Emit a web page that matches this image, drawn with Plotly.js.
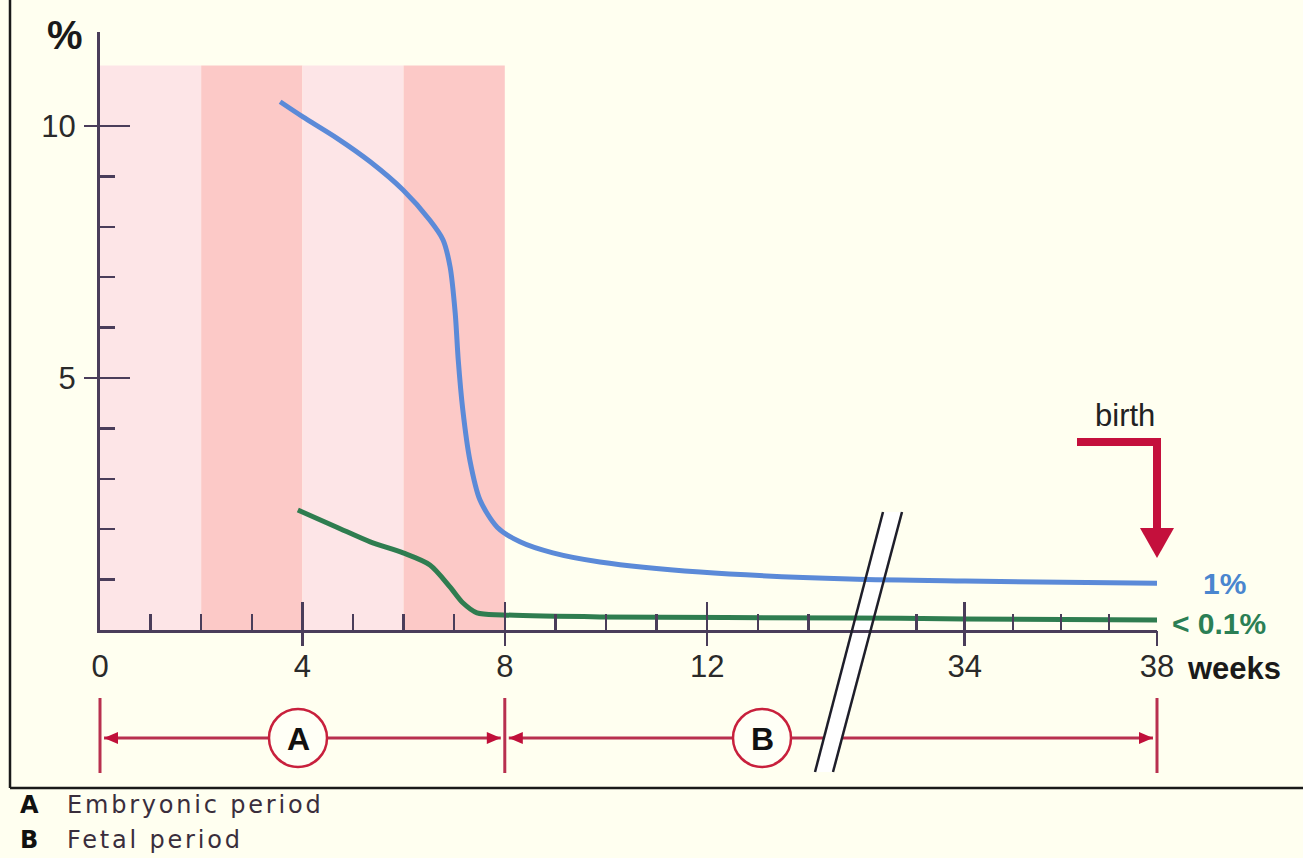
<!DOCTYPE html>
<html>
<head>
<meta charset="utf-8">
<script src="https://cdn.plot.ly/plotly-3.0.1.min.js"></script>
<style>
  html, body { margin: 0; padding: 0; background: #fffff0; }
  #chart { width: 1303px; height: 858px; }
</style>
</head>
<body>
<div id="chart"></div>
<script>
// ---- data ----
const blueWeeks  = [3.56, 4.01, 4.68, 5.34, 5.99, 6.52, 6.78, 6.92, 7.02, 7.08, 7.17, 7.31, 7.51, 7.85, 8.30, 8.95, 9.88, 11.86, 14.82, 34, 38];
const blueValues = [10.48, 10.18, 9.76, 9.29, 8.73, 8.13, 7.74, 7.20, 6.29, 5.36, 4.37, 3.37, 2.58, 2.04, 1.75, 1.53, 1.35, 1.15, 1.01, 0.97, 0.93];

const greenWeeks  = [3.91, 4.68, 5.34, 5.99, 6.52, 6.92, 7.17, 7.45, 7.96, 9.88, 14.82, 34, 38];
const greenValues = [2.38, 2.04, 1.75, 1.53, 1.29, 0.85, 0.54, 0.34, 0.30, 0.26, 0.24, 0.22, 0.20];

const bandEdges = [0, 2, 4, 6, 8];          // weeks
const xMajorWeeks = [0, 4, 8, 12, 34, 38];
const xMajorLabels = ['0', '4', '8', '12', '34', '38'];
const xMinorWeeks = [1, 2, 3, 5, 6, 7, 9, 10, 11, 13, 14, 33, 35, 36, 37];
const yMajorTicks = [5, 10];
const yMinorTicks = [1, 2, 3, 4, 6, 7, 8, 9];

const periods = [
    {key: 'A', name: 'Embryonic period', from: 0, to: 8},
    {key: 'B', name: 'Fetal period', from: 8, to: 38},
];

// ---- page geometry ----
const W = 1303, H = 858;
const ML = 100, MR = 146, MT = 32, MB = 228;
const PLOT_W = W - ML - MR, PLOT_H = H - MT - MB;

// broken week axis: linear up to the break, then resumes at 34
const BREAK_WEEK = 15, RESUME_WEEK = 34, RESUME_POS = 17.09, POST_SCALE = 0.95;
function pos(w) {
    return w <= BREAK_WEEK ? w : RESUME_POS + (w - RESUME_WEEK) * POST_SCALE;
}
const XMAX = pos(38);
const YMAX = 11.865;
const BAND_TOP = 11.2;

const fx = px => (px - ML) / PLOT_W;          // pixel -> paper
const fy = py => (H - MB - py) / PLOT_H;
const fw = w => pos(w) / XMAX;                // week -> paper

const AXIS = '#4a3d5a';
const CRIMSON = '#b8304f';
const FONT = 'Liberation Sans, Arial, sans-serif';
const bandFill = ['#fde5e7', '#fcc9c7'];

let shapes = [];
let annotations = [];

// pink bands
for (let i = 0; i < bandEdges.length - 1; i++) {
    shapes.push({
        type: 'rect', xref: 'x', yref: 'y', layer: 'below',
        x0: pos(bandEdges[i]), x1: pos(bandEdges[i + 1]), y0: 0, y1: BAND_TOP,
        fillcolor: bandFill[i % 2], line: {width: 0}
    });
}

function seg(x0, y0, x1, y1, color, width, layer) {
    shapes.push({type: 'line', xref: 'paper', yref: 'paper', layer: layer || 'above',
        x0: x0, y0: y0, x1: x1, y1: y1, line: {color: color, width: width}});
}
function poly(pts, color, layer) {
    const d = pts.map((p, i) => (i ? 'L' : 'M') + p[0] + ',' + p[1]).join(' ') + ' Z';
    shapes.push({type: 'path', xref: 'paper', yref: 'paper', layer: layer || 'above',
        path: d, fillcolor: color, line: {width: 0}});
}
const lab = (px, py, text, size, color, xanchor, family) => annotations.push({
    xref: 'paper', yref: 'paper', x: fx(px), y: fy(py), text: text, showarrow: false,
    xanchor: xanchor || 'center', yanchor: 'middle',
    font: {family: family || FONT, size: size, color: color}});

// period brackets below the axis
const BR_Y = 738, BR_TOP = 698, BR_BOT = 773, CIRC_R = 29;
const circleX = {A: 298, B: 762};
const wpx = w => ML + fw(w) * PLOT_W;
[0, 8, 38].forEach(w => seg(fw(w), fy(BR_TOP), fw(w), fy(BR_BOT), CRIMSON, 3, 'below'));
periods.forEach(p => {
    const left = wpx(p.from), right = wpx(p.to), cx = circleX[p.key];
    seg(fx(left + 4), fy(BR_Y), fx(cx - CIRC_R), fy(BR_Y), CRIMSON, 3, 'below');
    seg(fx(cx + CIRC_R), fy(BR_Y), fx(right - 4), fy(BR_Y), CRIMSON, 3, 'below');
    poly([[fx(left + 4), fy(BR_Y)], [fx(left + 18), fy(BR_Y - 6)], [fx(left + 18), fy(BR_Y + 6)]], '#c0103a', 'below');
    poly([[fx(right - 4), fy(BR_Y)], [fx(right - 18), fy(BR_Y - 6)], [fx(right - 18), fy(BR_Y + 6)]], '#c0103a', 'below');
    shapes.push({type: 'circle', xref: 'paper', yref: 'paper', layer: 'below',
        x0: fx(cx - CIRC_R), x1: fx(cx + CIRC_R), y0: fy(BR_Y + CIRC_R), y1: fy(BR_Y - CIRC_R),
        fillcolor: '#fffff6', line: {color: '#c8203c', width: 2.5}});
    lab(cx, BR_Y + 1, '<b>' + p.key + '</b>', 32, '#111');
});

// axis break (white band between two slanted strokes)
const brk = [[883, 512], [902, 512], [833, 772], [815, 772]];
poly(brk.map(p => [fx(p[0]), fy(p[1])]), '#ffffff', 'below');
seg(fx(brk[0][0]), fy(brk[0][1]), fx(brk[3][0]), fy(brk[3][1]), '#1e1e2a', 2.5);
seg(fx(brk[1][0]), fy(brk[1][1]), fx(brk[2][0]), fy(brk[2][1]), '#1e1e2a', 2.5);

// birth arrow
const BIRTH = '#c4103c';
const bx = wpx(38);
shapes.push({type: 'path', xref: 'paper', yref: 'paper', layer: 'above',
    path: 'M' + fx(1077) + ',' + fy(442) + ' L' + fx(bx) + ',' + fy(442) + ' L' + fx(bx) + ',' + fy(533),
    line: {color: BIRTH, width: 8}});
poly([[fx(bx - 17), fy(528)], [fx(bx + 17), fy(528)], [fx(bx), fy(558)]], BIRTH);

// frame around the figure
seg(fx(10), fy(-10), fx(10), fy(788), '#1a1a1a', 2.5);
seg(fx(10), fy(788), fx(1320), fy(788), '#1a1a1a', 2.5);

// labels
lab(65, 35, '<b>%</b>', 40, '#1a1a1a');
lab(1125, 415, 'birth', 31, '#222');
lab(1185, 668, '<b>weeks</b>', 31, '#1a1a1a', 'left');
lab(1201, 583, '<b>1%</b>', 30, '#4a86cf', 'left');
lab(1170, 623, '<b>&lt; 0.1%</b>', 30, '#2b7f55', 'left');

// footnote
const NOTE = 'DejaVu Sans, Verdana, sans-serif';
periods.forEach((p, i) => {
    const y = 805 + i * 35;
    lab(18, y, '<span style="font-size:24px"><b>' + p.key + '</b></span>', 24, '#111', 'left', NOTE);
    lab(65, y, '<span style="letter-spacing:2.8px;font-size:24px">' + p.name + '</span>', 24, '#3a2e3c', 'left', NOTE);
});

const traces = [
    {
        x: blueWeeks.map(pos), y: blueValues, type: 'scatter', mode: 'lines',
        line: {color: '#5b8ad8', width: 5, shape: 'spline', smoothing: 0.8},
        hoverinfo: 'skip'
    },
    {
        x: greenWeeks.map(pos), y: greenValues, type: 'scatter', mode: 'lines',
        xaxis: 'x2', yaxis: 'y2',
        line: {color: '#2f7d50', width: 5, shape: 'spline', smoothing: 0.8},
        hoverinfo: 'skip'
    }
];

const layout = {
    width: W, height: H,
    margin: {l: ML, r: MR, t: MT, b: MB, pad: 0},
    paper_bgcolor: '#fffff0',
    plot_bgcolor: 'rgba(0,0,0,0)',
    showlegend: false,
    xaxis: {
        range: [0, XMAX], showgrid: false, zeroline: false,
        showline: true, linecolor: AXIS, linewidth: 3,
        ticks: 'inside', ticklen: 28, tickwidth: 2.5, tickcolor: AXIS,
        tickmode: 'array', tickvals: xMajorWeeks.map(pos), ticktext: xMajorLabels,
        tickfont: {family: FONT, size: 31, color: '#2a2a2a'}, ticklabelstandoff: 7,
        minor: {tickmode: 'array', tickvals: xMinorWeeks.map(pos), ticks: 'inside', ticklen: 16, tickwidth: 2.5, tickcolor: AXIS, showgrid: false}
    },
    xaxis2: {
        overlaying: 'x', anchor: 'y', range: [0, XMAX],
        showgrid: false, zeroline: false, showline: false, showticklabels: false,
        ticks: 'outside', ticklen: 15, tickwidth: 2.5, tickcolor: AXIS,
        tickmode: 'array', tickvals: xMajorWeeks.slice(1).map(pos)
    },
    yaxis: {
        range: [0, YMAX], showgrid: false, zeroline: false,
        showline: true, linecolor: AXIS, linewidth: 3,
        ticks: 'inside', ticklen: 30, tickwidth: 2.5, tickcolor: AXIS,
        tickmode: 'array', tickvals: yMajorTicks, ticktext: yMajorTicks.map(String),
        tickfont: {family: FONT, size: 31, color: '#2a2a2a'}, ticklabelstandoff: 15,
        minor: {tickmode: 'array', tickvals: yMinorTicks, ticks: 'inside', ticklen: 15, tickwidth: 2.5, tickcolor: AXIS, showgrid: false}
    },
    yaxis2: {
        overlaying: 'y', anchor: 'x', side: 'left', range: [0, YMAX],
        showgrid: false, zeroline: false, showline: false, showticklabels: false,
        ticks: 'outside', ticklen: 15, tickwidth: 2.5, tickcolor: AXIS,
        tickmode: 'array', tickvals: yMajorTicks
    },
    shapes: shapes,
    annotations: annotations
};

Plotly.newPlot('chart', traces, layout, {staticPlot: true, displayModeBar: false});
</script>
</body>
</html>
